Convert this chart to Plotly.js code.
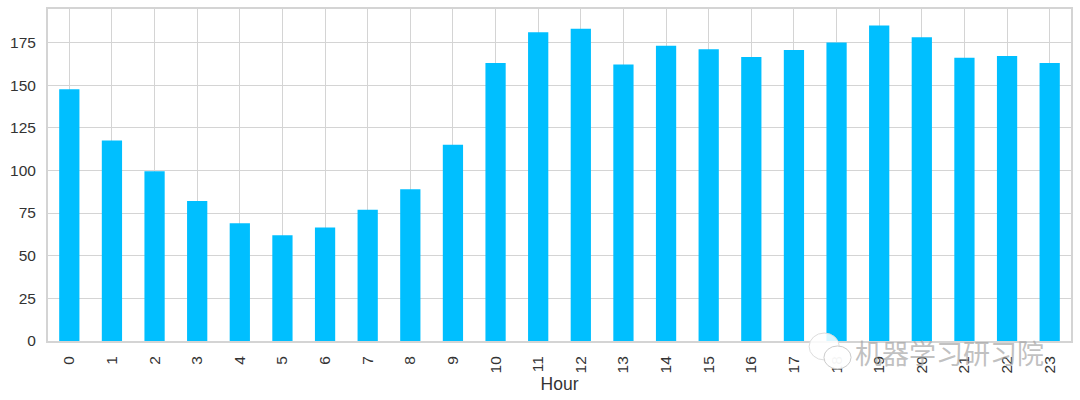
<!DOCTYPE html>
<html><head><meta charset="utf-8">
<script src="https://cdn.plot.ly/plotly-3.0.1.min.js"></script>
<style>html,body{margin:0;padding:0;background:#fff}</style></head>
<body><div id="chart" style="width:1080px;height:400px"></div>
<script>
const hours = ["0","1","2","3","4","5","6","7","8","9","10","11","12","13","14","15","16","17","18","19","20","21","22","23"];
const counts = [147.5,117.5,99.5,82,69,62,66.5,77,89,115,163,181,183,162,173,171,166.5,170.5,175,185,178,166,167,163];
const yTicks = [0,25,50,75,100,125,150,175];
const watermark = "机器学习研习院";
const font = "Arial, 'Liberation Sans', sans-serif";
Plotly.newPlot("chart",[{
  type:"bar",x:hours,y:counts,width:0.475,
  marker:{color:"#00bfff",line:{width:0}},hoverinfo:"x+y"
}],{
  width:1080,height:400,showlegend:false,
  paper_bgcolor:"#fff",plot_bgcolor:"#fff",
  margin:{l:48,r:8.5,t:9,b:59},
  font:{family:font,color:"#333333",size:15},
  xaxis:{type:"category",range:[-0.5,23.5],tickmode:"array",tickvals:hours,ticktext:hours,tickangle:-90,
    showgrid:true,gridcolor:"#d4d4d4",gridwidth:1.3,showline:true,mirror:true,linecolor:"#d4d4d4",linewidth:2,
    ticks:"outside",ticklen:7,tickcolor:"rgba(0,0,0,0)",tickfont:{size:15.5,color:"#333333"},zeroline:false,
    title:{text:"Hour",font:{size:17.5,color:"#333333"},standoff:5},automargin:false},
  yaxis:{range:[0,194.6],tickmode:"array",tickvals:yTicks,ticktext:yTicks.map(String),
    showgrid:true,gridcolor:"#d4d4d4",gridwidth:1.3,showline:true,mirror:true,linecolor:"#d4d4d4",linewidth:2,
    ticks:"outside",ticklen:7,tickcolor:"rgba(0,0,0,0)",zeroline:false,tickfont:{size:15.5,color:"#333333"},automargin:false},
  annotations:[{xref:"paper",yref:"paper",x:0.881,y:-0.034,xanchor:"center",yanchor:"middle",showarrow:false,
    text:watermark,font:{size:27,family:"'Noto Sans CJK SC'",color:"rgba(165,165,165,0.7)"}}],
  shapes:[
    {type:"circle",xref:"paper",yref:"paper",x0:0.744,x1:0.7735,y0:-0.057,y1:0.024,fillcolor:"rgba(255,255,255,0.85)",line:{color:"#dddddd",width:1}},
    {type:"circle",xref:"paper",yref:"paper",x0:0.7585,x1:0.785,y0:-0.084,y1:-0.015,fillcolor:"rgba(255,255,255,0.95)",line:{color:"#cccccc",width:1}}
  ]
},{displayModeBar:false});
</script></body></html>
